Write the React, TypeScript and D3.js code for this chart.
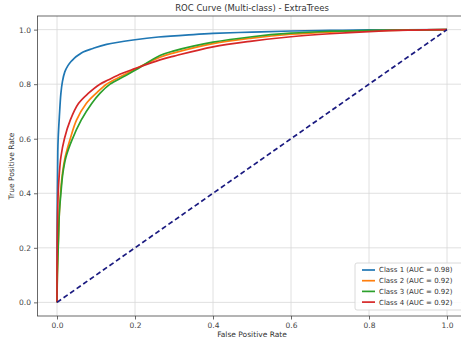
import React, { useRef, useEffect } from 'react';
import * as d3 from 'd3';

// ROC points: [fpr, tpr]
const class1: [number, number][] = [
  [0, 0], [0.0005, 0.3], [0.002, 0.55], [0.003, 0.6], [0.006, 0.68], [0.01, 0.766],
  [0.014, 0.81], [0.02, 0.845], [0.028, 0.868], [0.036, 0.883], [0.044, 0.895], [0.055, 0.907],
  [0.067, 0.918], [0.09, 0.93], [0.127, 0.946], [0.2, 0.963], [0.26, 0.973],
  [0.35, 0.982], [0.4, 0.986], [0.5, 0.991], [0.6, 0.995], [0.7, 0.997], [0.8, 0.999], [1, 1],
];
const class2: [number, number][] = [
  [0, 0], [0.001, 0.12], [0.004, 0.25], [0.006, 0.33], [0.009, 0.4], [0.014, 0.473],
  [0.021, 0.533], [0.034, 0.6], [0.05, 0.668], [0.075, 0.729], [0.1, 0.766], [0.127, 0.8],
  [0.162, 0.827], [0.2, 0.855], [0.264, 0.899], [0.3, 0.915], [0.4, 0.949], [0.5, 0.969],
  [0.6, 0.983], [0.7, 0.991], [0.8, 0.996], [1, 1],
];
const class3: [number, number][] = [
  [0, 0], [0.001, 0.1], [0.004, 0.24], [0.006, 0.327], [0.01, 0.4], [0.015, 0.473],
  [0.023, 0.533], [0.038, 0.594], [0.062, 0.668], [0.089, 0.729], [0.11, 0.766], [0.136, 0.8],
  [0.17, 0.827], [0.2, 0.851], [0.264, 0.905], [0.3, 0.922], [0.4, 0.954], [0.5, 0.974],
  [0.6, 0.987], [0.7, 0.994], [0.8, 0.997], [1, 1],
];
const class4: [number, number][] = [
  [0, 0], [0.0005, 0.22], [0.003, 0.4], [0.006, 0.473], [0.01, 0.533], [0.019, 0.6],
  [0.034, 0.668], [0.055, 0.729], [0.08, 0.766], [0.11, 0.8], [0.131, 0.815], [0.166, 0.839],
  [0.2, 0.857], [0.264, 0.889], [0.3, 0.903], [0.4, 0.937], [0.5, 0.958], [0.6, 0.974],
  [0.7, 0.985], [0.8, 0.993], [0.9, 0.998], [1, 1],
];

const seriesNames = ['Class 1 (AUC = 0.98)', 'Class 2 (AUC = 0.92)', 'Class 3 (AUC = 0.92)', 'Class 4 (AUC = 0.92)'];
const seriesData = [class1, class2, class3, class4];
const seriesColors = ['#1f77b4', '#ff7f0e', '#2ca02c', '#d62728'];
const tickValues = [0, 0.2, 0.4, 0.6, 0.8, 1.0];
const diagonal: [number, number][] = [[0, 0], [1, 1]];

const W = 461;
const H = 342;

export default function App() {
  const ref = useRef<SVGSVGElement>(null);

  useEffect(() => {
    const svg = d3.select(ref.current);
    svg.selectAll('*').remove();

    const left = 37.5, right = 466.5, top = 16, bottom = 316;
    const x = d3.scaleLinear().domain([-0.05, 1.05]).range([left, right]);
    const y = d3.scaleLinear().domain([-0.05, 1.05]).range([bottom, top]);
    const font = 'DejaVu Sans, sans-serif';

    svg.append('rect').attr('width', W).attr('height', H).attr('fill', 'white');

    // grid
    const grid = svg.append('g').attr('stroke', '#d8d8d8').attr('stroke-width', 0.8);
    tickValues.forEach(t => {
      grid.append('line').attr('x1', x(t)).attr('x2', x(t)).attr('y1', top).attr('y2', bottom);
      grid.append('line').attr('x1', left).attr('x2', right).attr('y1', y(t)).attr('y2', y(t));
    });

    // axes
    const xAxis = svg.append('g')
      .attr('transform', `translate(0,${bottom})`)
      .call(d3.axisBottom(x).tickValues(tickValues).tickFormat(d3.format('.1f')).tickSize(3.5).tickPadding(3));
    const yAxis = svg.append('g')
      .attr('transform', `translate(${left},0)`)
      .call(d3.axisLeft(y).tickValues(tickValues).tickFormat(d3.format('.1f')).tickSize(3.5).tickPadding(3));
    [xAxis, yAxis].forEach(a => {
      a.select('.domain').remove();
      a.selectAll('line').attr('stroke', '#444').attr('stroke-width', 0.8);
      a.selectAll('text').attr('fill', '#444').style('font-family', font).style('font-size', '7.5px');
    });

    // spines
    svg.append('rect')
      .attr('x', left).attr('y', top).attr('width', right - left).attr('height', bottom - top)
      .attr('fill', 'none').attr('stroke', '#444').attr('stroke-width', 0.8);

    const line = d3.line<[number, number]>()
      .x(d => x(d[0]))
      .y(d => y(d[1]))
      .curve(d3.curveCatmullRom.alpha(0.5));

    seriesData.forEach((data, i) => {
      svg.append('path')
        .datum(data)
        .attr('d', line)
        .attr('fill', 'none')
        .attr('stroke', seriesColors[i])
        .attr('stroke-width', 1.7);
    });

    svg.append('path')
      .datum(diagonal)
      .attr('d', d3.line<[number, number]>().x(d => x(d[0])).y(d => y(d[1])))
      .attr('fill', 'none')
      .attr('stroke', '#1a1a80')
      .attr('stroke-width', 1.7)
      .attr('stroke-dasharray', '5,3');

    // title and labels
    svg.append('text')
      .attr('x', (left + right) / 2).attr('y', 11)
      .attr('text-anchor', 'middle')
      .style('font-family', font).style('font-size', '8.5px').attr('fill', '#333')
      .text('ROC Curve (Multi-class) - ExtraTrees');
    svg.append('text')
      .attr('x', (left + right) / 2).attr('y', 337)
      .attr('text-anchor', 'middle')
      .style('font-family', font).style('font-size', '7.5px').attr('fill', '#333')
      .text('False Positive Rate');
    svg.append('text')
      .attr('transform', `translate(14,${(top + bottom) / 2}) rotate(-90)`)
      .attr('text-anchor', 'middle')
      .style('font-family', font).style('font-size', '7.5px').attr('fill', '#333')
      .text('True Positive Rate');

    // legend
    const lg = svg.append('g');
    lg.append('rect')
      .attr('x', 355).attr('y', 263).attr('width', 112).attr('height', 47)
      .attr('rx', 2)
      .attr('fill', 'white').attr('fill-opacity', 0.85)
      .attr('stroke', '#d0d0d0').attr('stroke-width', 0.8);
    seriesNames.forEach((name, i) => {
      const yy = 270 + i * 10.7;
      lg.append('line')
        .attr('x1', 362).attr('x2', 375).attr('y1', yy).attr('y2', yy)
        .attr('stroke', seriesColors[i]).attr('stroke-width', 1.7);
      lg.append('text')
        .attr('x', 379).attr('y', yy).attr('dy', '0.35em')
        .style('font-family', font).style('font-size', '7px').attr('fill', '#333')
        .text(name);
    });
  }, []);

  return (
    <div style={{ position: 'absolute', left: 0, top: 0 }}>
      <svg ref={ref} width={W} height={H} style={{ display: 'block' }} />
    </div>
  );
}
